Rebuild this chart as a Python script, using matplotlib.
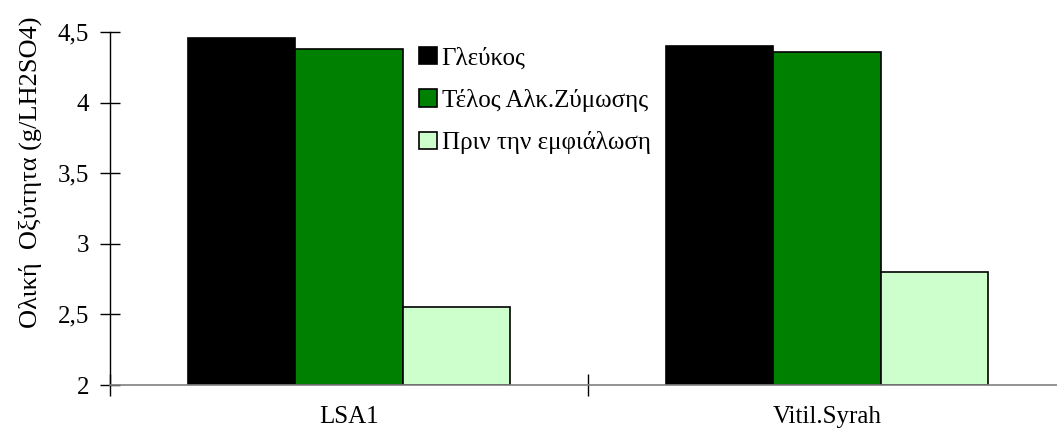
import numpy as np
import matplotlib.pyplot as plt
from matplotlib.ticker import FuncFormatter

plt.rcParams['font.family'] = ['Liberation Serif', 'DejaVu Serif']

categories = ['LSA1', 'Vitil.Syrah']
series = ['Γλεύκος', 'Τέλος Αλκ.Ζύμωσης', 'Πριν την εμφιάλωση']
values = [
    [4.46, 4.40],   # Γλεύκος
    [4.38, 4.36],   # Τέλος Αλκ.Ζύμωσης
    [2.55, 2.80],   # Πριν την εμφιάλωση
]
colors = ['#000000', '#008000', '#CCFFCC']

fig = plt.figure(figsize=(10.57, 4.36), dpi=100)
ax = fig.add_axes([110 / 1057, 1 - 385 / 436, 956 / 1057, 353 / 436])

x = np.arange(len(categories))
w = 0.224
for i, (name, vals) in enumerate(zip(series, values)):
    ax.bar(x + (i - 1) * w, np.array(vals) - 2, w, bottom=2, color=colors[i],
           edgecolor='black', linewidth=1.2, label=name, zorder=2)

ax.set_xlim(-0.5, 1.5)
ax.set_ylim(2, 4.5)
ax.set_yticks([2, 2.5, 3, 3.5, 4, 4.5])
ax.yaxis.set_major_formatter(FuncFormatter(lambda v, p: ('%g' % v).replace('.', ',')))
ax.set_xticks(x)
ax.set_xticklabels(categories)
ax.set_xticks([-0.5, 0.5, 1.5], minor=True)
ax.tick_params(axis='x', which='major', length=0, labelsize=18, pad=15)
ax.tick_params(axis='x', which='minor', direction='inout', length=16, width=1)
ax.tick_params(axis='y', direction='inout', length=14, width=1, labelsize=18, pad=8)

for s in ['top', 'right']:
    ax.spines[s].set_visible(False)
ax.spines['bottom'].set_color('#808080')
ax.spines['bottom'].set_linewidth(1.2)
ax.spines['left'].set_linewidth(1)

fig.text(30 / 1057, 1 - 172 / 436, 'Ολική  Οξύτητα (g/LH2SO4)', rotation=90,
         ha='center', va='center', fontsize=19)

leg = ax.legend(loc='upper left', bbox_to_anchor=(419 / 1057, 1 - 47 / 436),
                bbox_transform=fig.transFigure, frameon=False, fontsize=18,
                handlelength=0.7, handleheight=0.7, handletextpad=0.2,
                labelspacing=0.78, borderpad=0, borderaxespad=0)

fig.savefig('out.png', dpi=100)
